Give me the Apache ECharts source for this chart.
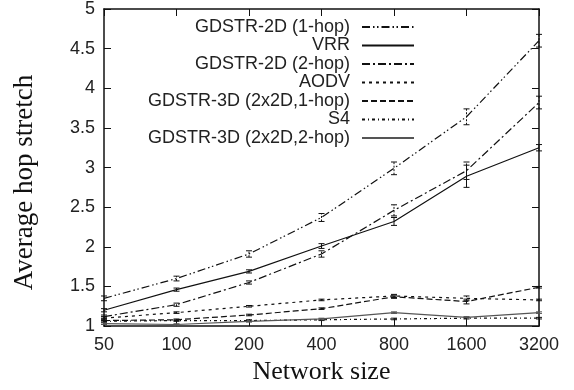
<!DOCTYPE html>
<html>
<head>
<meta charset="utf-8">
<script src="https://cdn.jsdelivr.net/npm/echarts@6/dist/echarts.min.js"></script>
<style>
html,body{margin:0;padding:0;background:#fff;}
#c{width:574px;height:390px;}
</style>
</head>
<body>
<div id="c"></div>
<script>
// ---- data ----
const categories = ['50', '100', '200', '400', '800', '1600', '3200'];
const seriesNames = ['GDSTR-2D (1-hop)', 'VRR', 'GDSTR-2D (2-hop)', 'AODV', 'GDSTR-3D (2x2D,1-hop)', 'S4', 'GDSTR-3D (2x2D,2-hop)'];
const gdstr2d1hop = [1.35, 1.60, 1.91, 2.37, 2.99, 3.64, 4.60];
const vrr         = [1.20, 1.46, 1.69, 2.01, 2.32, 2.89, 3.25];
const gdstr2d2hop = [1.12, 1.27, 1.55, 1.91, 2.46, 2.96, 3.82];
const aodv        = [1.10, 1.17, 1.25, 1.33, 1.38, 1.35, 1.33];
const gdstr3d1hop = [1.07, 1.08, 1.14, 1.22, 1.37, 1.31, 1.49];
const s4          = [1.06, 1.07, 1.07, 1.08, 1.09, 1.10, 1.10];
const gdstr3d2hop = [1.03, 1.02, 1.06, 1.09, 1.17, 1.11, 1.17];
// error bar half-widths
const err2d1hop = [0.03, 0.03, 0.04, 0.05, 0.08, 0.10, 0.08];
const errVrr    = [0.02, 0.02, 0.02, 0.03, 0.05, 0.14, 0.04];
const err2d2hop = [0.02, 0.02, 0.02, 0.04, 0.07, 0.11, 0.08];
const errAodv   = [0.02, 0.01, 0.01, 0.01, 0.02, 0.03, 0.01];
const err3d1hop = [0.02, 0.01, 0.01, 0.01, 0.02, 0.03, 0.01];
const errS4     = [0.01, 0.01, 0.01, 0.01, 0.01, 0.01, 0.01];
const err3d2hop = [0.01, 0.01, 0.01, 0.01, 0.01, 0.01, 0.01];
const yTicks = [1, 1.5, 2, 2.5, 3, 3.5, 4, 4.5, 5];

const values = [gdstr2d1hop, vrr, gdstr2d2hop, aodv, gdstr3d1hop, s4, gdstr3d2hop];
const errs = [err2d1hop, errVrr, err2d2hop, errAodv, err3d1hop, errS4, err3d2hop];
const dashes = [[8,3,1.5,2.5,1.5,3], 'solid', [8,3,2,3], [3,4], [6,3], [3,3,1,3], 'solid'];
const colors = ['#111', '#111', '#111', '#111', '#111', '#111', '#555'];
const legendCenters = [27, 45.5, 64, 82.5, 101, 119.5, 138];

const chart = echarts.init(document.getElementById('c'), null, {renderer: 'canvas'});
const series = [];
values.forEach((vals, i) => {
  series.push({
    name: seriesNames[i], type: 'line', data: vals, symbol: 'none',
    lineStyle: {color: colors[i], width: 1.2, type: dashes[i]},
    itemStyle: {color: colors[i]},
    z: 3
  });
  series.push({
    type: 'custom', silent: true, z: 2,
    data: vals.map((v, k) => [k, v - errs[i][k], v + errs[i][k]]),
    renderItem: function (params, api) {
      const lo = api.coord([api.value(0), api.value(1)]);
      const hi = api.coord([api.value(0), api.value(2)]);
      const w = 3;
      const st = {stroke: colors[i], lineWidth: 1, lineDash: dashes[i] === 'solid' ? null : [2, 1.5]};
      return {type: 'group', children: [
        {type: 'line', shape: {x1: lo[0], y1: lo[1], x2: hi[0], y2: hi[1]}, style: st},
        {type: 'line', shape: {x1: lo[0]-w, y1: lo[1], x2: lo[0]+w, y2: lo[1]}, style: {stroke: colors[i], lineWidth: 1}},
        {type: 'line', shape: {x1: hi[0]-w, y1: hi[1], x2: hi[0]+w, y2: hi[1]}, style: {stroke: colors[i], lineWidth: 1}}
      ]};
    }
  });
});

const legends = seriesNames.map((n, i) => ({
  data: [n], orient: 'vertical', align: 'right', right: 159, top: legendCenters[i] - 9,
  padding: 0, itemWidth: 52, itemHeight: 10, itemGap: 12, selectedMode: false,
  itemStyle: {opacity: 0, borderWidth: 0},
  textStyle: {fontFamily: 'Liberation Sans, Arial, sans-serif', fontSize: 18, color: '#222', lineHeight: 18, padding: [0, 7, 0, 0]}
}));

const axisFont = {fontFamily: 'Liberation Sans, Arial, sans-serif', fontSize: 18, color: '#222'};
const lineCol = {lineStyle: {color: '#111', width: 1.5}};

chart.setOption({
  animation: false,
  backgroundColor: '#fff',
  grid: {left: 104, right: 35, top: 9, bottom: 61, show: false},
  legend: legends,
  xAxis: [{
    type: 'category', data: categories, boundaryGap: false, position: 'bottom',
    name: 'Network size', nameLocation: 'middle', nameGap: 31,
    nameTextStyle: {fontFamily: 'Liberation Serif, Times New Roman, serif', fontSize: 26, color: '#111'},
    axisLine: lineCol, axisTick: {inside: true, length: 7, lineStyle: {color: '#111', width: 1}},
    axisLabel: Object.assign({margin: 10, interval: 0}, axisFont), splitLine: {show: false}
  }, {
    type: 'category', data: categories, boundaryGap: false, position: 'top',
    axisLine: lineCol, axisTick: {inside: true, length: 7, lineStyle: {color: '#111', width: 1}},
    axisLabel: {show: false}, splitLine: {show: false}
  }],
  yAxis: [{
    type: 'value', min: yTicks[0], max: yTicks[yTicks.length-1], interval: 0.5, position: 'left',
    name: 'Average hop stretch', nameLocation: 'middle', nameGap: 66,
    nameTextStyle: {fontFamily: 'Liberation Serif, Times New Roman, serif', fontSize: 27, color: '#111', padding: [0, 30, 0, 0]},
    axisLine: Object.assign({show: true}, lineCol), axisTick: {show: true, inside: true, length: 7, lineStyle: {color: '#111', width: 1}},
    axisLabel: Object.assign({margin: 9}, axisFont), splitLine: {show: false}
  }, {
    type: 'value', min: yTicks[0], max: yTicks[yTicks.length-1], interval: 0.5, position: 'right',
    axisLine: Object.assign({show: true}, lineCol), axisTick: {show: true, inside: true, length: 7, lineStyle: {color: '#111', width: 1}},
    axisLabel: {show: false}, splitLine: {show: false}
  }],
  series: series
});
</script>
</body>
</html>
